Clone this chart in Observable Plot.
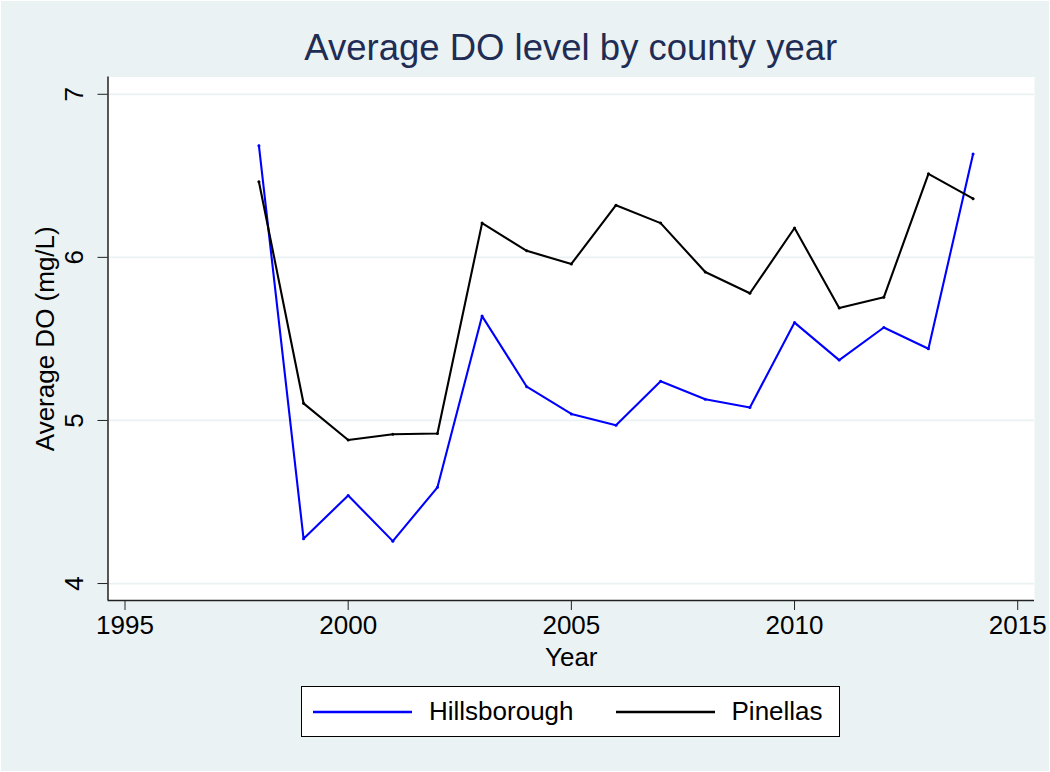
<!DOCTYPE html>
<html><head><meta charset="utf-8">
<script src="https://cdn.jsdelivr.net/npm/d3@7"></script>
<script src="https://cdn.jsdelivr.net/npm/@observablehq/plot@0.6"></script>
<style>
html,body{margin:0;padding:0;background:#EAF2F3;overflow:hidden}
#wrap{position:relative;width:1050px;height:772px;background:#EAF2F3;font-family:"Liberation Sans",Arial,sans-serif;box-shadow:inset 0 0 0 1px #ffffff}
#chart{position:absolute;left:0;top:0}
#title{position:absolute;left:107.5px;width:926.5px;top:30px;text-align:center;font-size:36.5px;line-height:36.5px;color:#1f2d55;white-space:nowrap}
#legend{position:absolute;left:301px;top:686px;width:539px;height:51px;box-sizing:border-box;background:#fff;border:1px solid #000;display:flex;align-items:center;padding-left:11px;font-size:26px;color:#000}
.item{display:flex;align-items:center}
.item svg{display:block}
.item span{margin-left:17px}
.item + .item{margin-left:42px}
</style></head>
<body>
<div id="wrap">
  <div id="chart"></div>
  <div id="title"></div>
  <div id="legend"></div>
</div>
<script>
const titleText = "Average DO level by county year";
const years = [1998,1999,2000,2001,2002,2003,2004,2005,2006,2007,2008,2009,2010,2011,2012,2013,2014];
const hillsborough = [6.685,4.275,4.54,4.26,4.59,5.64,5.207,5.04,4.97,5.24,5.13,5.08,5.60,5.37,5.57,5.44,6.634];
const pinellas = [6.464,5.105,4.88,4.915,4.92,6.21,6.04,5.96,6.32,6.21,5.91,5.78,6.18,5.69,5.755,6.512,6.36];
const seriesNames = ["Hillsborough","Pinellas"];
const seriesColors = ["#0000ff","#000000"];
const xTicks = [1995,2000,2005,2010,2015];
const yTicks = [4,5,6,7];
const xLabel = "Year";
const yLabel = "Average DO (mg/L)";

const data = years.flatMap((yr,i)=>[
  {year:yr, value:hillsborough[i], county:seriesNames[0]},
  {year:yr, value:pinellas[i], county:seriesNames[1]}
]);

const xDomain = [1994.619, 2015.376];
const yDomain = [3.896, 7.106];
const axisColor = "#222";

const chart = Plot.plot({
  width:1050, height:680,
  marginLeft:107.5, marginRight:16, marginTop:76.5, marginBottom:80,
  x:{domain:xDomain},
  y:{domain:yDomain},
  color:{domain:seriesNames, range:seriesColors},
  style:{background:"transparent", fontFamily:"'Liberation Sans', Arial, sans-serif", fontSize:"26px", color:"#000", overflow:"visible"},
  marks:[
    Plot.frame({fill:"white", stroke:"none"}),
    Plot.ruleY(yTicks, {stroke:"#EAF2F3", strokeWidth:1.7}),
    Plot.line(data, {x:"year", y:"value", z:"county", stroke:"county", strokeWidth:2.1}),
    Plot.dot(data, {x:"year", y:"value", fill:"county", r:1.5}),
    Plot.ruleX([xDomain[0]], {stroke:axisColor, strokeWidth:1.5}),
    Plot.ruleY([yDomain[0]], {stroke:axisColor, strokeWidth:1.5}),
    Plot.axisX({ticks:xTicks, tickFormat:d=>String(d), tickSize:10, tickPadding:5, label:null, stroke:axisColor, fill:"#000"}),
    Plot.axisY({ticks:yTicks, tickSize:10, tickFormat:()=>"", label:null, stroke:axisColor}),
    Plot.text(yTicks, {y:d=>d, frameAnchor:"left", dx:-33, rotate:-90, text:d=>String(d), textAnchor:"middle", lineAnchor:"middle", fill:"#000", fontSize:26}),
    Plot.text([yLabel], {frameAnchor:"left", dx:-62.5, rotate:-90, text:d=>d, textAnchor:"middle", lineAnchor:"middle", fill:"#000", fontSize:26}),
    Plot.text([xLabel], {frameAnchor:"bottom", dy:65, text:d=>d, textAnchor:"middle", lineAnchor:"bottom", fill:"#000", fontSize:26})
  ]
});
document.getElementById("chart").appendChild(chart);
document.getElementById("title").textContent = titleText;

const legend = d3.select("#legend");
seriesNames.forEach((name,i)=>{
  const item = legend.append("div").attr("class","item");
  const s = item.append("svg").attr("width",99).attr("height",6);
  s.append("line").attr("x1",0).attr("x2",99).attr("y1",3).attr("y2",3)
    .attr("stroke",seriesColors[i]).attr("stroke-width",2.4);
  item.append("span").text(name);
});
</script>
</body></html>
